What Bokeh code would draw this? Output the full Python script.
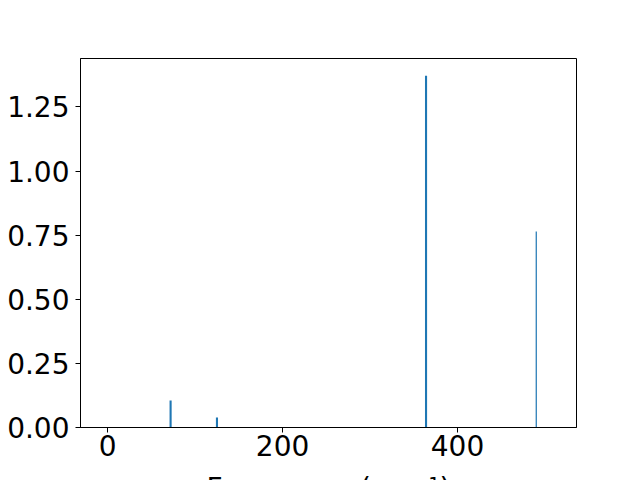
from bokeh.plotting import figure
from bokeh.models import Range1d, FixedTicker, PrintfTickFormatter
from bokeh.embed import file_html
from bokeh.resources import INLINE

# Data
frequencies = [72, 125, 364, 490]
intensities = [0.105, 0.039, 1.372, 0.764]
bar_widths = [2.4, 2.4, 2.4, 1.4]
x_ticks = [0, 200, 400]
y_ticks = [0.0, 0.25, 0.5, 0.75, 1.0, 1.25]

FONT = "DejaVu Sans"
BLUE = "#1f77b4"

p = figure(output_backend="svg", toolbar_location=None,
           frame_width=496, frame_height=369,
           min_border_left=80, min_border_right=64,
           min_border_top=58, min_border_bottom=20,
           x_range=Range1d(-31, 536), y_range=Range1d(0, 1.439))

p.vbar(x=frequencies, top=intensities, width=bar_widths, bottom=0,
       fill_color=BLUE, line_color=None)

p.xgrid.visible = False
p.ygrid.visible = False
p.outline_line_color = "black"
p.outline_line_width = 1
p.outline_line_alpha = 1.0

for ax in (p.xaxis[0], p.yaxis[0]):
    ax.axis_line_color = "black"
    ax.major_tick_line_color = "black"
    ax.major_tick_out = 5
    ax.major_tick_in = 0
    ax.minor_tick_line_color = None
    ax.major_label_text_font = FONT
    ax.major_label_text_font_size = "28px"
    ax.major_label_text_color = "black"

p.xaxis[0].major_label_standoff = 2
p.yaxis[0].major_label_standoff = 6

p.xaxis[0].ticker = FixedTicker(ticks=x_ticks)
p.yaxis[0].ticker = FixedTicker(ticks=y_ticks)
p.yaxis[0].formatter = PrintfTickFormatter(format="%.2f")

p.xaxis[0].axis_label = "Frequency (cm⁻¹)"
p.xaxis[0].axis_label_text_font = FONT
p.xaxis[0].axis_label_text_font_size = "28px"
p.xaxis[0].axis_label_text_font_style = "normal"
p.xaxis[0].axis_label_text_color = "black"
p.xaxis[0].axis_label_standoff = 13

p.background_fill_color = "white"
p.border_fill_color = "white"

open("out.html", "w").write(file_html(p, INLINE))
